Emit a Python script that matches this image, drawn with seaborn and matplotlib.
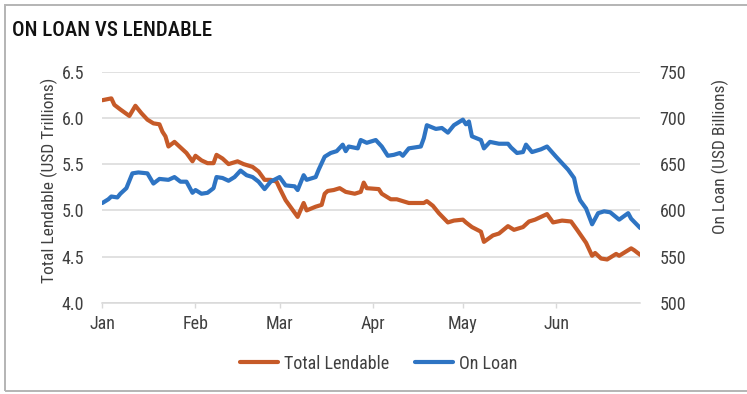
import matplotlib
matplotlib.use("Agg")
import matplotlib.pyplot as plt
from matplotlib.patches import Rectangle
import pandas as pd
import seaborn as sns

# Total lendable, USD trillions (left axis)
lendable_dates = [
    "2021-01-01", "2021-01-04", "2021-01-05", "2021-01-07", "2021-01-10", "2021-01-12",
    "2021-01-14", "2021-01-16", "2021-01-18", "2021-01-20", "2021-01-21", "2021-01-22",
    "2021-01-23", "2021-01-25", "2021-01-27", "2021-01-29", "2021-01-31", "2021-02-01",
    "2021-02-03", "2021-02-05", "2021-02-07", "2021-02-08", "2021-02-10", "2021-02-12",
    "2021-02-15", "2021-02-17", "2021-02-20", "2021-02-22", "2021-02-24", "2021-02-26",
    "2021-02-28", "2021-03-01", "2021-03-03", "2021-03-05", "2021-03-07", "2021-03-09",
    "2021-03-10", "2021-03-13", "2021-03-15", "2021-03-16", "2021-03-17", "2021-03-19",
    "2021-03-21", "2021-03-23", "2021-03-26", "2021-03-28", "2021-03-29", "2021-03-30",
    "2021-04-03", "2021-04-04", "2021-04-07", "2021-04-09", "2021-04-13", "2021-04-18",
    "2021-04-19", "2021-04-21", "2021-04-23", "2021-04-26", "2021-04-28", "2021-05-01",
    "2021-05-02", "2021-05-04", "2021-05-07", "2021-05-08", "2021-05-11", "2021-05-13",
    "2021-05-16", "2021-05-18", "2021-05-21", "2021-05-23", "2021-05-25", "2021-05-29",
    "2021-05-31", "2021-06-03", "2021-06-06", "2021-06-08", "2021-06-11", "2021-06-13",
    "2021-06-14", "2021-06-16", "2021-06-18", "2021-06-21", "2021-06-22", "2021-06-26",
    "2021-06-27", "2021-06-29",
]
lendable_values = [
    6.19, 6.21, 6.14, 6.09, 6.02, 6.13,
    6.05, 5.98, 5.94, 5.93, 5.85, 5.80,
    5.69, 5.74, 5.68, 5.62, 5.53, 5.59,
    5.54, 5.51, 5.51, 5.60, 5.56, 5.50,
    5.53, 5.50, 5.47, 5.42, 5.33, 5.33,
    5.31, 5.24, 5.11, 5.02, 4.93, 5.08,
    5.00, 5.04, 5.06, 5.18, 5.21, 5.22,
    5.24, 5.20, 5.18, 5.20, 5.30, 5.24,
    5.23, 5.18, 5.12, 5.12, 5.08, 5.08,
    5.10, 5.05, 4.97, 4.87, 4.89, 4.90,
    4.87, 4.82, 4.77, 4.66, 4.73, 4.75,
    4.83, 4.79, 4.82, 4.88, 4.90, 4.96,
    4.87, 4.89, 4.88, 4.79, 4.65, 4.51,
    4.54, 4.48, 4.47, 4.53, 4.51, 4.59,
    4.57, 4.52,
]

# On loan, USD billions (right axis)
loan_dates = [
    "2021-01-01", "2021-01-03", "2021-01-04", "2021-01-06", "2021-01-07", "2021-01-09",
    "2021-01-11", "2021-01-13", "2021-01-16", "2021-01-18", "2021-01-20", "2021-01-23",
    "2021-01-25", "2021-01-27", "2021-01-29", "2021-01-31", "2021-02-01", "2021-02-03",
    "2021-02-05", "2021-02-07", "2021-02-08", "2021-02-10", "2021-02-12", "2021-02-14",
    "2021-02-16", "2021-02-18", "2021-02-20", "2021-02-22", "2021-02-24", "2021-02-26",
    "2021-03-01", "2021-03-03", "2021-03-06", "2021-03-07", "2021-03-09", "2021-03-10",
    "2021-03-13", "2021-03-14", "2021-03-16", "2021-03-18", "2021-03-20", "2021-03-22",
    "2021-03-23", "2021-03-24", "2021-03-27", "2021-03-28", "2021-03-30", "2021-04-02",
    "2021-04-04", "2021-04-06", "2021-04-08", "2021-04-10", "2021-04-11", "2021-04-13",
    "2021-04-17", "2021-04-18", "2021-04-19", "2021-04-22", "2021-04-24", "2021-04-26",
    "2021-04-28", "2021-05-01", "2021-05-02", "2021-05-03", "2021-05-04", "2021-05-07",
    "2021-05-08", "2021-05-10", "2021-05-13", "2021-05-16", "2021-05-17", "2021-05-19",
    "2021-05-21", "2021-05-22", "2021-05-24", "2021-05-27", "2021-05-29", "2021-06-01",
    "2021-06-03", "2021-06-05", "2021-06-07", "2021-06-08", "2021-06-09", "2021-06-11",
    "2021-06-13", "2021-06-15", "2021-06-17", "2021-06-19", "2021-06-22", "2021-06-25",
    "2021-06-26", "2021-06-29",
]
loan_values = [
    608, 612, 615, 614, 618, 624,
    640, 641, 640, 629, 634, 633,
    636, 631, 631, 619, 622, 618,
    619, 624, 636, 635, 632, 636,
    643, 638, 636, 631, 623, 631,
    636, 627, 626, 622, 638, 633,
    636, 644, 658, 662, 664, 671,
    664, 669, 667, 676, 673, 676,
    669, 659, 660, 662, 659, 667,
    669, 678, 692, 688, 689, 684,
    692, 698, 693, 696, 680, 676,
    667, 674, 672, 672, 668, 662,
    663, 671, 663, 666, 669, 658,
    651, 644, 635, 620, 611, 602,
    585, 597, 599, 598, 590, 597,
    591, 581,
]

month_labels = ["Jan", "Feb", "Mar", "Apr", "May", "Jun"]
left_ticks = [4.0, 4.5, 5.0, 5.5, 6.0, 6.5]
right_ticks = [500, 550, 600, 650, 700, 750]

ORANGE = "#C65A28"
BLUE = "#2E74C3"
GRID = "#D9D9D9"
TEXT = "#404040"

lendable = pd.DataFrame({"date": pd.to_datetime(lendable_dates), "value": lendable_values})
loan = pd.DataFrame({"date": pd.to_datetime(loan_dates), "value": loan_values})

sns.set_theme(style="white")
FONT = ["Roboto Condensed", "DejaVu Sans"]
plt.rcParams["font.family"] = FONT

fig = plt.figure(figsize=(7.47, 3.94), dpi=100)
ax = fig.add_axes([0.137, 0.231, 0.720, 0.5875])
ax2 = ax.twinx()

sns.lineplot(data=lendable, x="date", y="value", ax=ax, color=ORANGE,
             linewidth=3.0, label="Total Lendable", legend=False)
sns.lineplot(data=loan, x="date", y="value", ax=ax2, color=BLUE,
             linewidth=3.0, label="On Loan", legend=False)

ax.set_xlim(pd.Timestamp("2021-01-01"), pd.Timestamp("2021-06-29"))
ax.set_ylim(4.0, 6.5)
ax2.set_ylim(500, 750)

ax.set_yticks(left_ticks)
ax.set_yticklabels([f"{t:.1f}" for t in left_ticks])
ax2.set_yticks(right_ticks)
ax2.set_yticklabels([str(t) for t in right_ticks])

month_starts = pd.date_range("2021-01-01", periods=len(month_labels), freq="MS")
ax.set_xticks(month_starts)
ax.set_xticklabels(month_labels)

ax.grid(axis="y", color=GRID, linewidth=1.1)
ax.set_axisbelow(True)
ax2.grid(False)
for a in (ax, ax2):
    for s in a.spines.values():
        s.set_visible(False)
ax.spines["bottom"].set_visible(True)
ax.spines["bottom"].set_color(GRID)
ax.spines["bottom"].set_linewidth(1.1)

ax.tick_params(axis="x", bottom=True, length=3.5, width=1.0, color=GRID,
               pad=5, labelsize=13, labelcolor=TEXT)
ax.tick_params(axis="y", left=False, pad=7, labelsize=13, labelcolor=TEXT)
ax2.tick_params(axis="y", right=False, pad=8, labelsize=13, labelcolor=TEXT)

ax.set_xlabel("")
ax.set_ylabel("Total Lendable (USD Trillions)", fontsize=12.5, color=TEXT)
ax2.set_ylabel("On Loan (USD Billions)", fontsize=12.5, color=TEXT)
ax.yaxis.set_label_coords(-0.083, 0.531)
ax2.yaxis.set_label_coords(1.133, 0.635)

handles = ax.get_lines()[:1] + ax2.get_lines()[:1]
fig.legend(handles, ["Total Lendable", "On Loan"], loc="center",
           bbox_to_anchor=(0.507, 0.077), ncol=2, frameon=False, fontsize=13,
           labelcolor=TEXT, handlelength=2.1, handletextpad=0.3, columnspacing=1.45)

fig.text(0.016, 0.908, "ON LOAN VS LENDABLE", fontsize=15, color="#111111",
         ha="left", va="baseline", family=FONT, fontweight="medium")

# outer frame around the panel
fig.patches.append(Rectangle((5 / 747, 3 / 394), 1.2, 1 - 8 / 394,
                             transform=fig.transFigure, fill=False,
                             edgecolor="#B4B4B4", linewidth=1.4, zorder=0))

fig.savefig("out.png", dpi=100)
